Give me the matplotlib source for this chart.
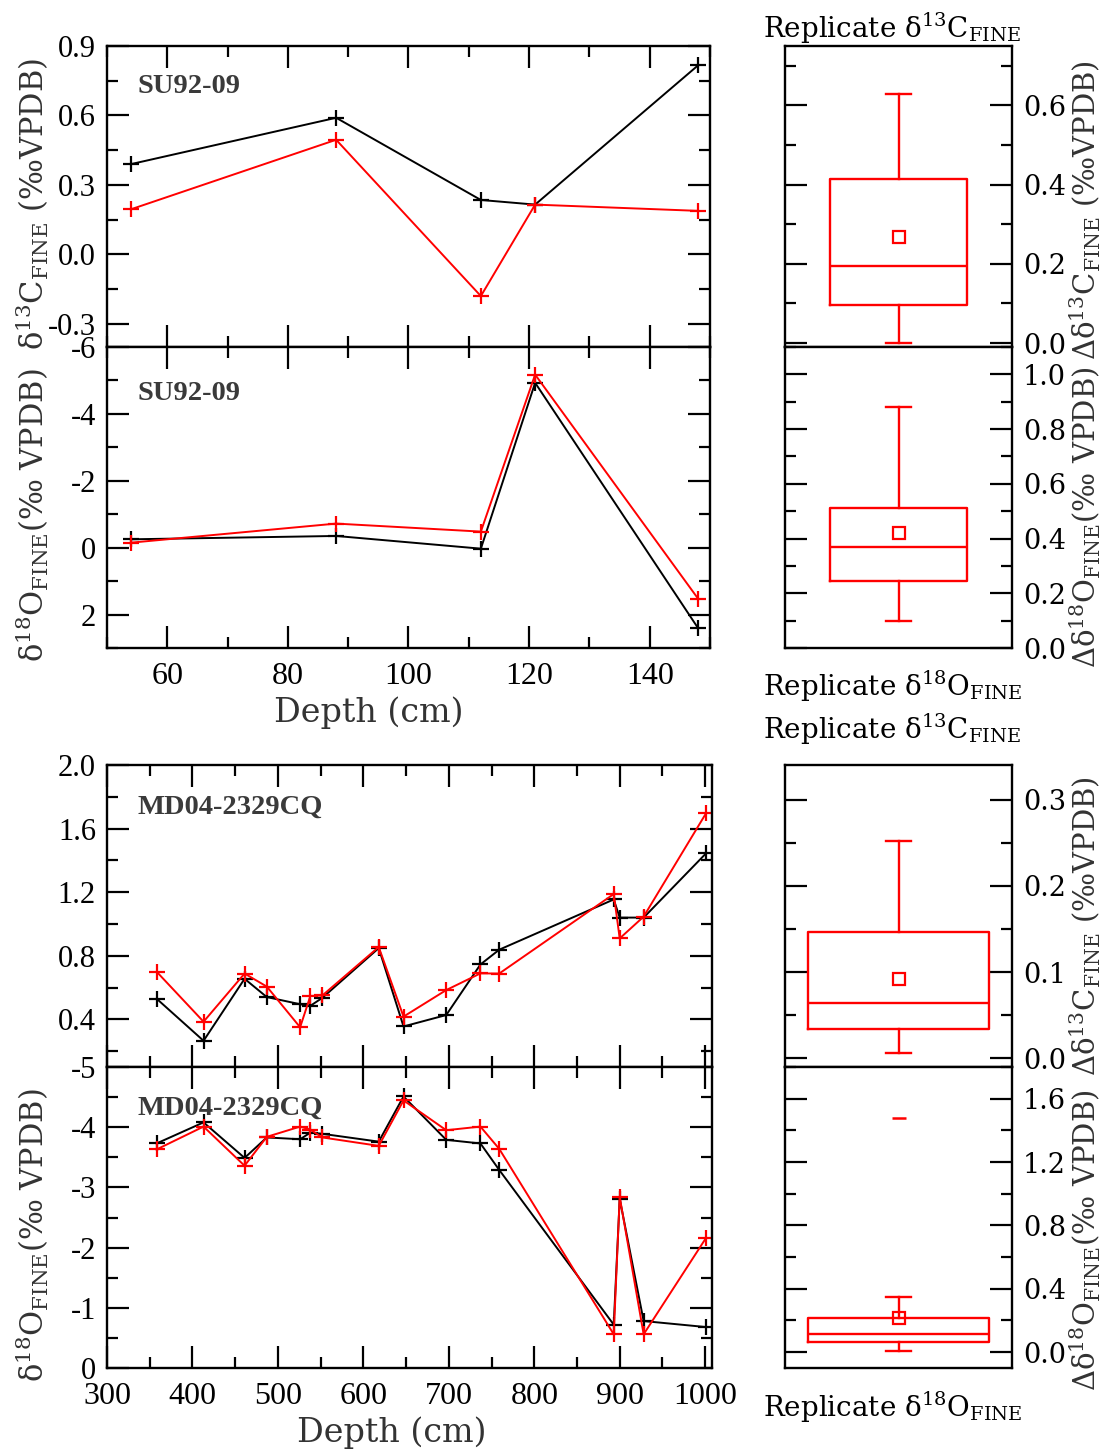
import matplotlib.pyplot as plt
import numpy as np
from matplotlib.ticker import MultipleLocator, FormatStrFormatter

plt.rcParams['font.family'] = ['Liberation Serif', 'DejaVu Serif']
plt.rcParams['axes.unicode_minus'] = False

# SU92-09 replicate runs (a = first run, b = replicate)
su_depth = [54, 88, 112, 121, 148]
su_d13c_a = [0.39, 0.59, 0.235, 0.215, 0.816]
su_d13c_b = [0.195, 0.495, -0.18, 0.215, 0.188]
su_d18o_a = [-0.25, -0.35, 0.03, -4.93, 2.40]
su_d18o_b = [-0.15, -0.72, -0.48, -5.175, 1.52]

# MD04-2329CQ replicate runs
md_depth = [358, 413, 461, 487, 526, 538, 552, 618, 647, 697, 737, 759, 893, 900, 928, 1001]
md_d13c_a = [0.53, 0.265, 0.655, 0.54, 0.495, 0.485, 0.535, 0.848, 0.355, 0.427,
             0.745, 0.838, 1.154, 1.04, 1.04, 1.444]
md_d13c_b = [0.70, 0.385, 0.688, 0.606, 0.35, 0.547, 0.55, 0.855, 0.417, 0.584,
             0.689, 0.688, 1.188, 0.909, 1.046, 1.696]
md_d18o_a = [-3.73, -4.08, -3.49, -3.83, -3.80, -3.91, -3.89, -3.76, -4.51, -3.79,
             -3.73, -3.29, -0.72, -2.81, -0.78, -0.68]
md_d18o_b = [-3.63, -4.01, -3.36, -3.84, -4.01, -3.96, -3.83, -3.69, -4.445, -3.95,
             -4.01, -3.64, -0.56, -2.84, -0.56, -2.16]

W, H = 1112, 1452
fig = plt.figure(figsize=(W / 100, H / 100), dpi=100)


def rect(l, t, r, b):
    return [l / W, 1 - b / H, (r - l) / W, (b - t) / H]


def ticks(ax, xmaj, xmin, ymaj, ymin, yfmt):
    if xmaj:
        ax.xaxis.set_major_locator(MultipleLocator(xmaj))
        ax.xaxis.set_minor_locator(MultipleLocator(xmin))
    ax.yaxis.set_major_locator(MultipleLocator(ymaj))
    ax.yaxis.set_minor_locator(MultipleLocator(ymin))
    ax.yaxis.set_major_formatter(FormatStrFormatter(yfmt))
    ax.tick_params(which='both', direction='in', top=True, right=True, width=1.6)
    ax.tick_params(which='major', length=16)
    ax.tick_params(which='minor', length=8)
    for s in ax.spines.values():
        s.set_linewidth(1.7)


LBL = dict(family='DejaVu Serif', math_fontfamily='dejavuserif', color='#333333')


def profile(ax, depth, a, b, name, ny):
    ax.plot(depth, a, color='black', lw=1.4, marker='+', ms=12, mew=1.6)
    ax.plot(depth, b, color='red', lw=1.4, marker='+', ms=12, mew=1.6)
    ax.text(0.05, ny, name, transform=ax.transAxes, fontsize=20.5, fontweight='bold',
            color='#3a3a3a', va='center')
    ax.tick_params(axis='y', labelsize=22, pad=8)
    ax.tick_params(axis='x', labelsize=23, pad=10)


# upper core
axA = fig.add_axes(rect(107, 46, 710, 347))
axB = fig.add_axes(rect(107, 347, 710, 648))
profile(axA, su_depth, su_d13c_a, su_d13c_b, 'SU92-09', 0.864)
profile(axB, su_depth, su_d18o_a, su_d18o_b, 'SU92-09', 0.847)
for ax in (axA, axB):
    ax.set_xlim(50, 150)
ticks(axA, 20, 10, 0.3, 0.15, '%.1f')
ticks(axB, 20, 10, 2, 1, '%d')
axA.set_ylim(-0.4, 0.9)
axB.set_ylim(3, -6)
axA.tick_params(labelbottom=False)
axA.set_ylabel(r'δ$^{13}$C$_{\mathrm{FINE}}$ (‰VPDB)', fontsize=22, **LBL)
axA.yaxis.set_label_coords(-0.093, 0.475)
axB.set_ylabel(r'δ$^{18}$O$_{\mathrm{FINE}}$(‰ VPDB)', fontsize=22, **LBL)
axB.yaxis.set_label_coords(-0.093, 0.44)
axB.set_xlabel('Depth (cm)', fontsize=24, **LBL)
axB.xaxis.set_label_coords(0.434, -0.16)

# lower core
axC = fig.add_axes(rect(107, 765, 712, 1067))
axD = fig.add_axes(rect(107, 1067, 712, 1368))
profile(axC, md_depth, md_d13c_a, md_d13c_b, 'MD04-2329CQ', 0.861)
profile(axD, md_depth, md_d18o_a, md_d18o_b, 'MD04-2329CQ', 0.864)
for ax in (axC, axD):
    ax.set_xlim(300, 1008)
ticks(axC, 100, 50, 0.4, 0.2, '%.1f')
ticks(axD, 100, 50, 1, 0.5, '%d')
axC.set_ylim(0.1, 2.0)
axD.set_ylim(0, -5)
axC.tick_params(labelbottom=False)
axD.set_ylabel(r'δ$^{18}$O$_{\mathrm{FINE}}$(‰ VPDB)', fontsize=22, **LBL)
axD.yaxis.set_label_coords(-0.093, 0.44)
axD.set_xlabel('Depth (cm)', fontsize=24, **LBL)
axD.xaxis.set_label_coords(0.47, -0.16)

# replicate differences as box charts
RED = 'red'


def boxchart(ax, diff, width, ylim, ymaj, ymin, label, ly):
    ax.boxplot(diff, positions=[1], widths=width, whis=1.5, showmeans=True,
               capwidths=0.11,
               boxprops=dict(color=RED, lw=1.7),
               whiskerprops=dict(color=RED, lw=1.7),
               capprops=dict(color=RED, lw=1.7),
               medianprops=dict(color=RED, lw=1.7),
               meanprops=dict(marker='s', mfc='none', mec=RED, ms=9, mew=1.6),
               flierprops=dict(marker='_', mec=RED, ms=10, mew=1.8))
    ax.set_xlim(0.5, 1.5)
    ax.set_ylim(*ylim)
    ticks(ax, None, None, ymaj, ymin, '%.1f')
    ax.set_xticks([])
    ax.tick_params(axis='y', labelleft=False, labelright=True, labelsize=19.5,
                   pad=8, labelfontfamily='DejaVu Serif')
    ax.set_ylabel(label, fontsize=21, rotation=90, **LBL)
    ax.yaxis.set_label_position('right')
    ax.yaxis.set_label_coords(1.245, ly)


ax1 = fig.add_axes(rect(785, 46, 1012, 347))
ax2 = fig.add_axes(rect(785, 347, 1012, 648))
ax3 = fig.add_axes(rect(785, 765, 1012, 1067))
ax4 = fig.add_axes(rect(785, 1067, 1012, 1368))

boxchart(ax1, np.abs(np.subtract(su_d13c_a, su_d13c_b)), 0.6, (-0.01, 0.75), 0.2, 0.1,
         r'Δδ$^{13}$C$_{\mathrm{FINE}}$ (‰VPDB)', 0.455)
boxchart(ax2, np.abs(np.subtract(su_d18o_a, su_d18o_b)), 0.6, (0, 1.1), 0.2, 0.1,
         r'Δδ$^{18}$O$_{\mathrm{FINE}}$(‰ VPDB)', 0.435)
boxchart(ax3, np.abs(np.subtract(md_d13c_a, md_d13c_b)), 0.8, (-0.01, 0.34), 0.1, 0.05,
         r'Δδ$^{13}$C$_{\mathrm{FINE}}$ (‰VPDB)', 0.467)
boxchart(ax4, np.abs(np.subtract(md_d18o_a, md_d18o_b)), 0.8, (-0.1, 1.8), 0.4, 0.2,
         r'Δδ$^{18}$O$_{\mathrm{FINE}}$(‰ VPDB)', 0.425)

TTL = dict(fontsize=20, family='DejaVu Serif', math_fontfamily='dejavuserif',
           va='baseline', ha='left')
fig.text(763 / W, 1 - 38 / H, r'Replicate δ$^{13}$C$_{\mathrm{FINE}}$', **TTL)
fig.text(763 / W, 1 - 696 / H, r'Replicate δ$^{18}$O$_{\mathrm{FINE}}$', **TTL)
fig.text(763 / W, 1 - 739 / H, r'Replicate δ$^{13}$C$_{\mathrm{FINE}}$', **TTL)
fig.text(763 / W, 1 - 1417 / H, r'Replicate δ$^{18}$O$_{\mathrm{FINE}}$', **TTL)

fig.savefig('out.png', dpi=100)
